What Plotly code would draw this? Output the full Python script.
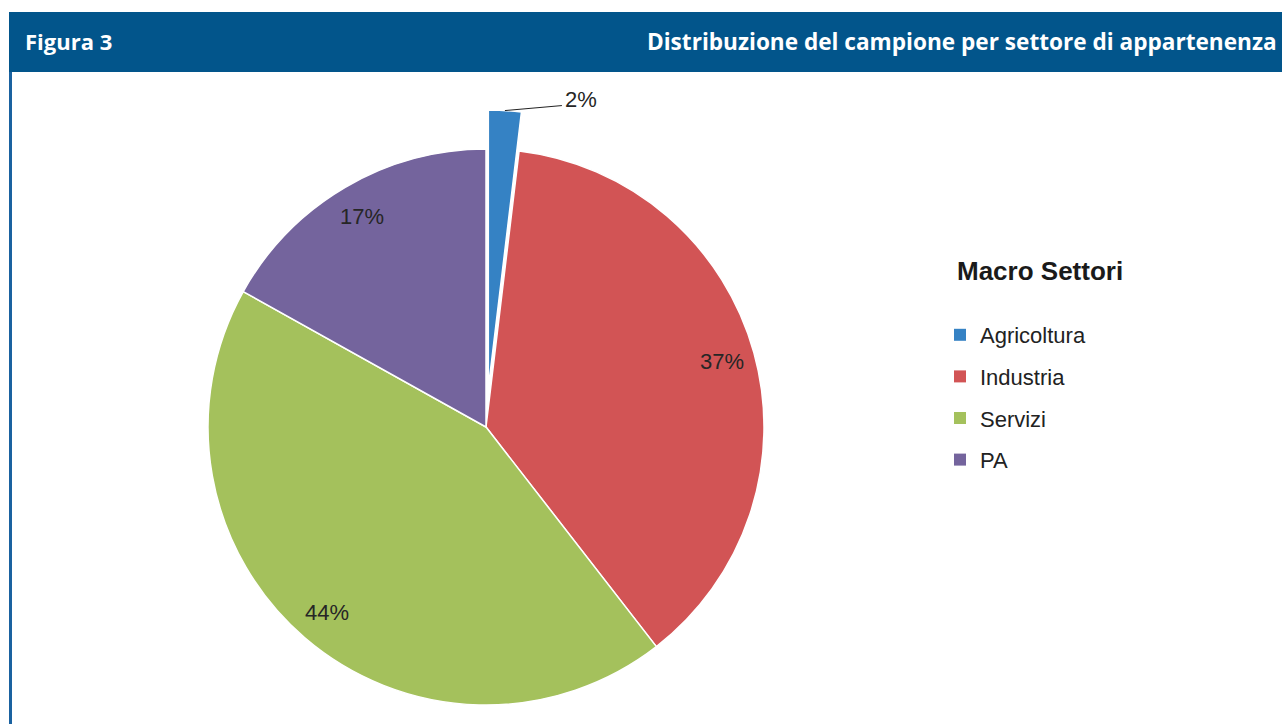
import math
import plotly.graph_objects as go

# ---------------- data ----------------
categories = ["Agricoltura", "Industria", "Servizi", "PA"]
values = [1.9, 37.6, 43.6, 16.9]
value_labels = ["2%", "37%", "44%", "17%"]
colors = ["#3582C4", "#D25455", "#A4C15C", "#74649D"]
pulled = [True, False, False, False]

fig_title_left = "Figura 3"
fig_title_right = "Distribuzione del campione per settore di appartenenza"
legend_title = "Macro Settori"

# ---------------- layout constants ----------------
W, H = 1282, 724
CX, CY, R = 486, 427, 278        # pie centre / radius (px)
PULL_PX = 39                     # explosion of the pulled slice (px)
LABEL_RF = 0.88                  # inside label radius fraction
TEXT_FONT = "Liberation Sans, Arial, sans-serif"
HEAD_FONT = "Open Sans, Noto Sans, sans-serif"
HEADER_BLUE = "#02558B"


def px_x(x):
    return x / W


def px_y(y):
    return 1 - y / H


def dom(cx, cy, r):
    return dict(x=[px_x(cx - r), px_x(cx + r)], y=[px_y(cy + r), px_y(cy - r)])


total = sum(values)
mids = []
acc = 0.0
for v in values:
    a0 = acc / total * 360
    acc += v
    a1 = acc / total * 360
    mids.append(math.radians((a0 + a1) / 2))

fig = go.Figure()

# main pie (non-pulled slices)
fig.add_trace(go.Pie(
    labels=categories, values=values, sort=False, direction="clockwise", rotation=0,
    marker=dict(colors=["rgba(0,0,0,0)" if p else c for c, p in zip(colors, pulled)],
                line=dict(color="white", width=[0 if p else 1.5 for p in pulled])),
    textinfo="none", hoverinfo="label+percent", showlegend=False,
    domain=dom(CX, CY, R),
))

# pulled slice(s): same pie, centre shifted along the slice bisector
for i, p in enumerate(pulled):
    if not p:
        continue
    ccx = CX + PULL_PX * math.sin(mids[i])
    ccy = CY - PULL_PX * math.cos(mids[i])
    fig.add_trace(go.Pie(
        labels=categories, values=values, sort=False, direction="clockwise", rotation=0,
        marker=dict(colors=[c if j == i else "rgba(0,0,0,0)" for j, c in enumerate(colors)],
                    line=dict(color=["white" if j == i else "rgba(0,0,0,0)" for j in range(len(values))],
                              width=[1.5 if j == i else 0 for j in range(len(values))])),
        textinfo="none", hoverinfo="label+percent", showlegend=False,
        domain=dom(ccx, ccy, R),
    ))

# legend entries
for cat, col in zip(categories, colors):
    fig.add_trace(go.Scatter(
        x=[None], y=[None], mode="markers", name=cat, legendgroup=cat,
        marker=dict(symbol="square", size=12, color=col, line=dict(width=0)),
        hoverinfo="skip",
    ))

shapes = [
    dict(type="rect", xref="paper", yref="paper", x0=px_x(9), x1=1.0, y0=px_y(72), y1=px_y(12),
         fillcolor=HEADER_BLUE, line=dict(width=0), layer="above"),
    dict(type="line", xref="paper", yref="paper", x0=px_x(10.5), x1=px_x(10.5), y0=0, y1=px_y(72),
         line=dict(color="#1A62A0", width=3)),
]

annotations = [
    dict(text=fig_title_left, x=px_x(23), y=px_y(41), xref="paper", yref="paper",
         xanchor="left", yanchor="middle", showarrow=False,
         font=dict(family=HEAD_FONT, size=22, color="white", weight="bold")),
    dict(text=fig_title_right, x=px_x(1279), y=px_y(41), xref="paper", yref="paper",
         xanchor="right", yanchor="middle", showarrow=False,
         font=dict(family=HEAD_FONT, size=22.6, color="white", weight="bold")),
    dict(text="<b>" + legend_title + "</b>", x=px_x(955), y=px_y(271), xref="paper", yref="paper",
         xanchor="left", yanchor="middle", showarrow=False,
         font=dict(family=TEXT_FONT, size=26, color="#1a1a1a")),
]

for i, (lab, m) in enumerate(zip(value_labels, mids)):
    if pulled[i]:
        ccx = CX + PULL_PX * math.sin(m)
        ccy = CY - PULL_PX * math.cos(m)
        sx = ccx + R * math.sin(m)
        sy = ccy - R * math.cos(m)
        ex, ey = sx + 57, sy - 5
        shapes.append(dict(type="line", xref="paper", yref="paper",
                           x0=px_x(sx), y0=px_y(sy), x1=px_x(ex), y1=px_y(ey),
                           line=dict(color="#222222", width=1)))
        annotations.append(dict(text=lab, x=px_x(ex + 1), y=px_y(ey - 6), xref="paper", yref="paper",
                                xanchor="left", yanchor="middle", showarrow=False,
                                font=dict(family=TEXT_FONT, size=22, color="#262626")))
    else:
        lx = CX + LABEL_RF * R * math.sin(m)
        ly = CY - LABEL_RF * R * math.cos(m)
        annotations.append(dict(text=lab, x=px_x(lx), y=px_y(ly), xref="paper", yref="paper",
                                xanchor="center", yanchor="middle", showarrow=False,
                                font=dict(family=TEXT_FONT, size=22, color="#262626")))

fig.update_layout(
    width=W, height=H,
    margin=dict(l=0, r=0, t=0, b=0),
    paper_bgcolor="white", plot_bgcolor="white",
    xaxis=dict(visible=False), yaxis=dict(visible=False),
    showlegend=True,
    legend=dict(x=px_x(940), y=px_y(314), xanchor="left", yanchor="top",
                font=dict(family=TEXT_FONT, size=22, color="#222222"),
                tracegroupgap=10, bgcolor="rgba(0,0,0,0)", borderwidth=0),
    shapes=shapes,
    annotations=annotations,
)

# remove the default 8px page margin so the figure fills the 1282x724 window
fig.write_html("out.html", config={"displayModeBar": False},
               post_script="document.body.style.margin='0';")
